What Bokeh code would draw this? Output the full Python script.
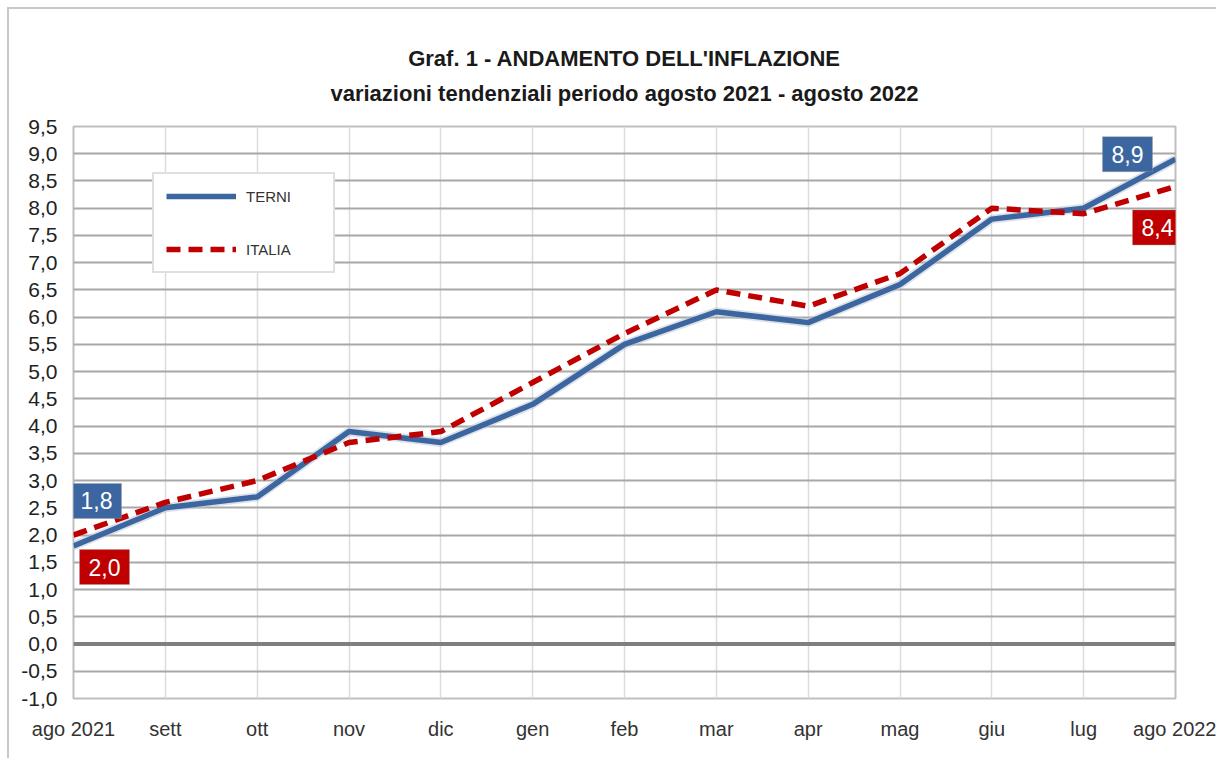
from bokeh.plotting import figure
from bokeh.models import (ColumnDataSource, FixedTicker, Legend, LegendItem, Span, Title)
from bokeh.core.properties import value
from bokeh.embed import file_html
from bokeh.resources import INLINE

# ---- data ----
months = ["ago 2021", "sett", "ott", "nov", "dic", "gen", "feb", "mar", "apr",
          "mag", "giu", "lug", "ago 2022"]
terni = [1.8, 2.5, 2.7, 3.9, 3.7, 4.4, 5.5, 6.1, 5.9, 6.6, 7.8, 8.0, 8.9]
italia = [2.0, 2.6, 3.0, 3.7, 3.9, 4.8, 5.7, 6.5, 6.2, 6.8, 8.0, 7.9, 8.4]
y_ticks = [-1.0, -0.5, 0.0, 0.5, 1.0, 1.5, 2.0, 2.5, 3.0, 3.5, 4.0, 4.5, 5.0,
           5.5, 6.0, 6.5, 7.0, 7.5, 8.0, 8.5, 9.0, 9.5]
y_tick_labels = ["-1,0", "-0,5", "0,0", "0,5", "1,0", "1,5", "2,0", "2,5", "3,0",
                 "3,5", "4,0", "4,5", "5,0", "5,5", "6,0", "6,5", "7,0", "7,5",
                 "8,0", "8,5", "9,0", "9,5"]
title_text = "Graf. 1 - ANDAMENTO DELL'INFLAZIONE"
subtitle_text = "variazioni tendenziali periodo agosto 2021 - agosto 2022"

SANS = "Liberation Sans"

x = list(range(len(months)))
src = ColumnDataSource(dict(x=x, terni=terni, italia=italia))

p = figure(width=1209, height=751, output_backend="svg", toolbar_location=None,
           x_range=(0, len(months) - 1), y_range=(y_ticks[0], y_ticks[-1]),
           min_border_left=64, min_border_right=43, min_border_bottom=62,
           min_border_top=117)
p.margin = (7, 0, 0, 7)
p.styles = {"border-left": "2px solid #c8c8c8", "border-top": "2px solid #c8c8c8"}
p.background_fill_color = "white"
p.border_fill_color = "white"
p.outline_line_color = "#bfbfbf"
p.outline_line_width = 2
p.title.visible = False

p.add_layout(Title(text=title_text + "\n" + subtitle_text, align="center",
                   text_align="center",
                   text_font=SANS, text_font_size="22px", text_font_style="bold",
                   text_color="#1a1a1a", text_line_height=1.38, standoff=42), "above")

# axes
p.xaxis.ticker = FixedTicker(ticks=x)
p.xaxis.major_label_overrides = {i: m for i, m in zip(x, months)}
p.xaxis.major_label_text_font = SANS
p.xaxis.major_label_text_font_size = "20px"
p.xaxis.major_label_text_color = "#333333"
p.xaxis.major_label_standoff = 13
p.xaxis.axis_line_color = None
p.xaxis.major_tick_line_color = None
p.xaxis.minor_tick_line_color = None

p.yaxis.ticker = FixedTicker(ticks=y_ticks)
p.yaxis.major_label_overrides = {t: l for t, l in zip(y_ticks, y_tick_labels)}
p.yaxis.major_label_text_font = SANS
p.yaxis.major_label_text_font_size = "21px"
p.yaxis.major_label_text_color = "#222222"
p.yaxis.major_label_standoff = 10
p.yaxis.axis_line_color = None
p.yaxis.major_tick_line_color = None
p.yaxis.minor_tick_line_color = None

p.xgrid.ticker = FixedTicker(ticks=x)
p.xgrid.grid_line_color = "#dcdcdc"
p.xgrid.grid_line_width = 1.5
p.ygrid.ticker = FixedTicker(ticks=y_ticks)
p.ygrid.grid_line_color = "#a8a8a8"
p.ygrid.grid_line_width = 2

p.add_layout(Span(location=0, dimension="width", line_color="#7f7f7f", line_width=4))

# shadows
p.line("x", "terni", source=src, line_color="#b9c4d4", line_width=9, line_alpha=0.5)
# lines
r_t = p.line("x", "terni", source=src, line_color="#3c66a0", line_width=5.5)
r_i = p.line("x", "italia", source=src, line_color="#c00000", line_width=5.5,
             line_dash="14 8")

# value labels (first and last)
first, last = 0, len(months) - 1
lab_src = ColumnDataSource(dict(
    x=[x[first], x[first], x[last], x[last]],
    y=[terni[first], italia[first], terni[last], italia[last]],
    text=[f"{terni[first]:.1f}".replace(".", ","), f"{italia[first]:.1f}".replace(".", ","),
          f"{terni[last]:.1f}".replace(".", ","), f"{italia[last]:.1f}".replace(".", ",")],
    fill=["#3c66a0", "#c00000", "#3c66a0", "#c00000"],
    xo=[23, 31, -48, -18],
    yo=[-45, 32, -5, 41],
))
p.text("x", "y", text="text", source=lab_src, x_offset="xo", y_offset="yo",
       text_align="center", text_baseline="middle", text_color="white",
       text_font=value(SANS), text_font_size="23px",
       background_fill_color="fill", padding=9,
       border_line_color="#9a9a9a", border_line_alpha=0.4)

legend = Legend(items=[LegendItem(label="TERNI", renderers=[r_t]),
                       LegendItem(label="ITALIA", renderers=[r_i])],
                location=(79, 425), orientation="vertical")
legend.glyph_width = 70
legend.glyph_height = 20
legend.label_height = 20
legend.label_width = 75
legend.spacing = 33
legend.padding = 12
legend.margin = 0
legend.label_standoff = 10
legend.label_text_font = SANS
legend.label_text_font_size = "15px"
legend.label_text_color = "#333333"
legend.border_line_color = "#c0c0c0"
legend.border_line_width = 2
legend.background_fill_color = "white"
legend.background_fill_alpha = 1
p.add_layout(legend, "center")

open("out.html", "w").write(file_html(p, INLINE))
